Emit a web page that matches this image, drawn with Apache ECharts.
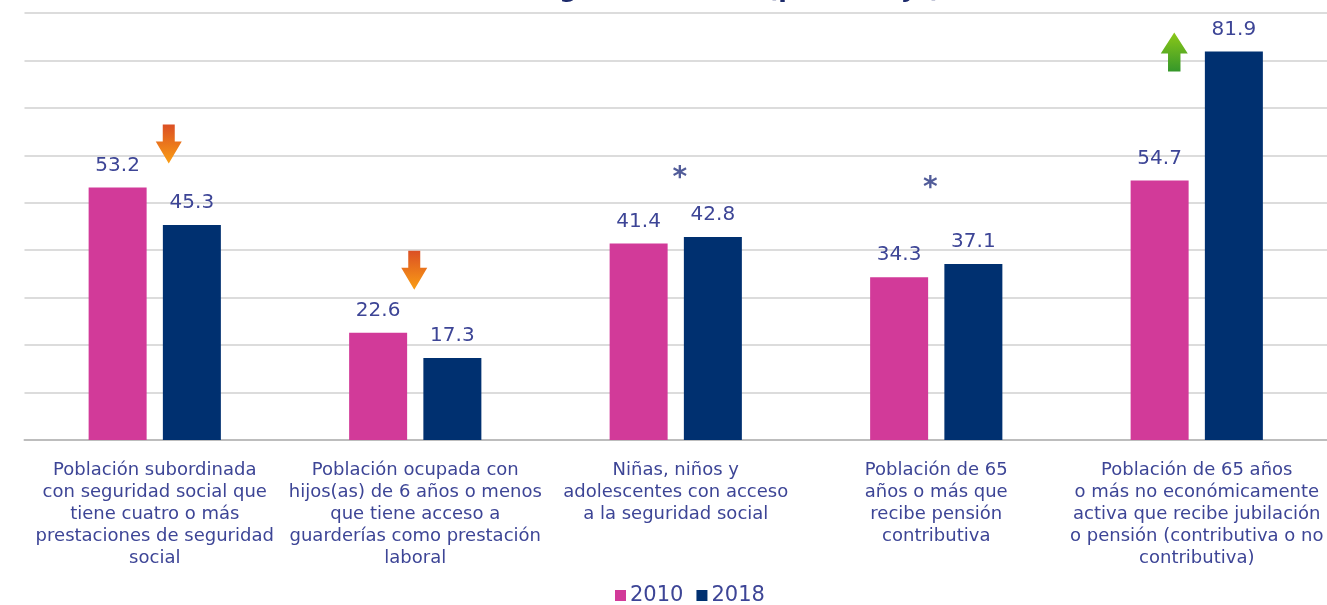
<!DOCTYPE html>
<html>
<head>
<meta charset="utf-8">
<title>Seguridad social</title>
<script src="https://cdn.jsdelivr.net/npm/echarts@6/dist/echarts.min.js"></script>
<style>
  html, body { margin: 0; padding: 0; background: #fff; }
  #chart { width: 1327px; height: 605px; }
</style>
</head>
<body>
<div id="chart"></div>
<script>
// categories (line breaks as in the original)
const categories = [
  'Población subordinada\ncon seguridad social que\ntiene cuatro o más\nprestaciones de seguridad\nsocial',
  'Población ocupada con\nhijos(as) de 6 años o menos\nque tiene acceso a\nguarderías como prestación\nlaboral',
  'Niñas, niños y\nadolescentes con acceso\na la seguridad social',
  'Población de 65\naños o más que\nrecibe pensión\ncontributiva',
  'Población de 65 años\no más no económicamente\nactiva que recibe jubilación\no pensión (contributiva o no\ncontributiva)'
];
const values2010 = [53.2, 22.6, 41.4, 34.3, 54.7];
const values2018 = [45.3, 17.3, 42.8, 37.1, 81.9];

// change markers: [category index, height on the value scale]
const downArrows = [[0, 62.4], [1, 35.8]];
const upArrows = [[4, 81.8]];
const asterisks = [[2, 55.0], [3, 53.0]];

const FONT = 'DejaVu Sans';
const TEXT = '#3d4596';

const chart = echarts.init(document.getElementById('chart'));

const downPath = 'path://M7,0 L19,0 L19,17 L26,17 L13,39 L0,17 L7,17 Z';
const upPath = 'path://M13,0 L26,21 L19,21 L19,39 L7,39 L7,21 L0,21 Z';

const option = {
  animation: false,
  title: {
    text: 'Indicadores de acceso a la seguridad social (porcentaje)',
    right: 386,
    top: -22,
    padding: 0,
    textStyle: { fontFamily: FONT, fontSize: 25, fontWeight: 'bold', color: '#1c2a6b' }
  },
  legend: {
    data: ['2010', '2018'],
    top: 580,
    left: 610,
    itemWidth: 11,
    itemHeight: 11,
    itemGap: 13,
    icon: 'rect',
    textStyle: { fontFamily: FONT, fontSize: 21, color: TEXT, padding: [0, 0, 0, -1] }
  },
  grid: { left: 24.5, right: -2.5, top: 13, bottom: 165 },
  xAxis: {
    type: 'category',
    data: categories,
    axisTick: { show: false },
    axisLine: { lineStyle: { color: '#bdbdbd', width: 2 } },
    axisLabel: {
      interval: 0,
      margin: 19,
      fontFamily: FONT,
      fontSize: 18,
      lineHeight: 22,
      color: TEXT,
      align: 'center'
    }
  },
  yAxis: {
    type: 'value',
    min: 0,
    max: 90,
    interval: 10,
    axisLabel: { show: false },
    axisLine: { show: false },
    axisTick: { show: false },
    splitLine: { lineStyle: { color: '#dcdcdc', width: 2 } }
  },
  series: [
    {
      name: '2010',
      type: 'bar',
      data: values2010,
      barWidth: 58,
      barGap: '28%',
      itemStyle: { color: '#d23a99' },
      label: {
        show: true, position: 'top', distance: 12,
        fontFamily: FONT, fontSize: 20, color: TEXT
      }
    },
    {
      name: '2018',
      type: 'bar',
      data: values2018,
      barWidth: 58,
      itemStyle: { color: '#003070' },
      label: {
        show: true, position: 'top', distance: 12,
        fontFamily: FONT, fontSize: 20, color: TEXT
      }
    },
    {
      name: 'bajas',
      type: 'scatter',
      symbol: downPath,
      symbolSize: [26, 39],
      data: downArrows.map((d, i) => ({ value: d, symbolOffset: [i === 0 ? 14 : -1, 0] })),
      itemStyle: {
        opacity: 1,
        color: new echarts.graphic.LinearGradient(0, 0, 0, 1, [
          { offset: 0, color: '#db4f24' },
          { offset: 1, color: '#fa9e14' }
        ])
      },
      silent: true
    },
    {
      name: 'alzas',
      type: 'scatter',
      symbol: upPath,
      symbolSize: [27, 39],
      symbolOffset: [-22.5, 0],
      data: upArrows,
      itemStyle: {
        opacity: 1,
        color: new echarts.graphic.LinearGradient(0, 0, 0, 1, [
          { offset: 0, color: '#8cc818' },
          { offset: 1, color: '#35972a' }
        ])
      },
      silent: true
    },
    {
      name: 'asteriscos',
      type: 'scatter',
      symbolSize: 1,
      itemStyle: { color: 'transparent' },
      data: asterisks.map((d, i) => ({ value: d, label: { offset: [i === 0 ? 4 : -6, 0] } })),
      label: {
        show: true,
        position: 'inside',
        formatter: '*',
        fontFamily: FONT,
        fontSize: 28,
        fontWeight: 'bold',
        color: '#26337f'
      },
      silent: true
    }
  ]
};

chart.setOption(option);
window.addEventListener('resize', () => chart.resize());
</script>
</body>
</html>
